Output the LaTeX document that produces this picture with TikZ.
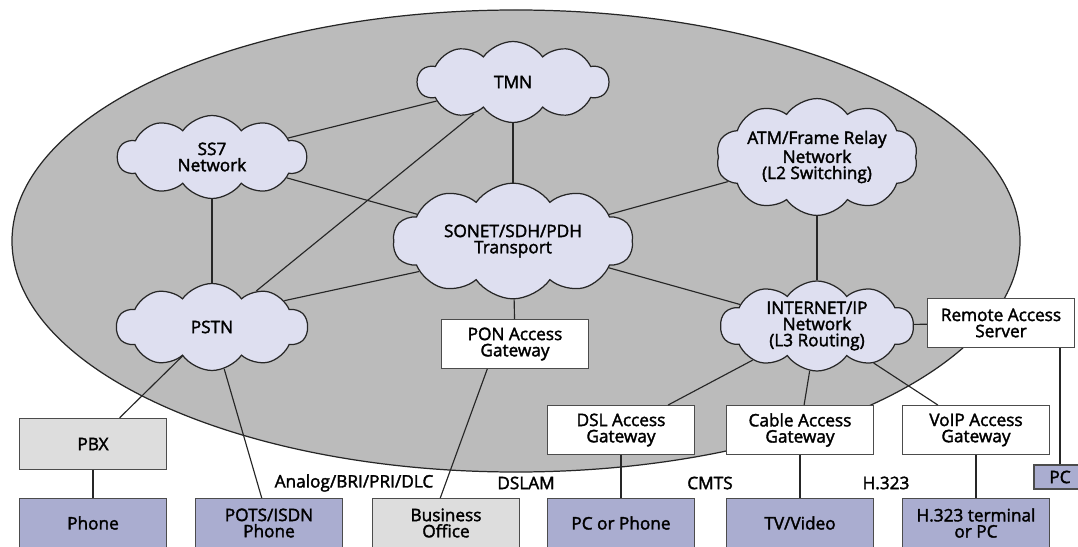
\documentclass[tikz,border=0pt]{standalone}
\usepackage{fontspec}
\setmainfont{Open Sans}[FakeBold=2]
\usepackage{tikz}
\usetikzlibrary{shapes.symbols}
\definecolor{ringgray}{RGB}{187,187,187}
\definecolor{cloudfill}{RGB}{222,223,240}
\definecolor{termfill}{RGB}{170,173,208}
\definecolor{officefill}{RGB}{221,221,221}
\tikzstyle{net}=[cloud, cloud puffs=10, cloud puff arc=110, aspect=2.2, draw=black!85, fill=cloudfill, inner sep=0pt, align=center, line width=0.7pt]
\tikzstyle{gw}=[rectangle, draw=black!70, fill=white, minimum width=2.94cm, minimum height=0.97cm, inner sep=1pt, align=center, line width=0.8pt]
\tikzstyle{term}=[gw, fill=termfill]
\tikzstyle{office}=[gw, fill=officefill]
\tikzstyle{lbl}=[inner sep=1pt]
\tikzstyle{edge}=[draw=black!85, line width=0.65pt]

\begin{document}
\begin{tikzpicture}[x=0.02cm, y=-0.02cm, font=\fontsize{9.8}{9.2}\selectfont]
	\useasboundingbox (0,0) rectangle (1078,547);
	\clip (0,0) rectangle (1078,547);
	\draw[fill=ringgray, draw=black!85, line width=0.7pt] (516,241) ellipse [x radius=504, y radius=231];
	% core networks
	\draw (513,82) node[net, minimum width=3.82cm, minimum height=1.62cm] (tmn) {TMN};
	\draw (212,157) node[net, minimum width=3.78cm, minimum height=1.66cm] (ss7) {SS7\\Network};
	\draw (513,241) node[net, minimum width=4.8cm, minimum height=2.06cm] (sonet) {SONET/SDH/PDH\\Transport};
	\draw (817,157) node[net, minimum width=3.86cm, minimum height=1.66cm] (atm) {ATM/Frame Relay\\Network\\(L2 Switching)};
	\draw (212,327) node[net, minimum width=3.82cm, minimum height=1.74cm] (pstn) {PSTN};
	\draw (817,326) node[net, minimum width=3.86cm, minimum height=1.7cm] (inet) {INTERNET/IP\\Network\\(L3 Routing)};
	% gateways
	\draw (515,344) node[gw] (pon) {PON Access\\Gateway};
	\draw (1001,323) node[gw] (ras) {Remote Access\\Server};
	\draw (621,430) node[gw] (dsl) {DSL Access\\Gateway};
	\draw (800,430) node[gw] (cable) {Cable Access\\Gateway};
	\draw (976,430) node[gw] (voip) {VoIP Access\\Gateway};
	\draw (93,444) node[office, minimum height=1.02cm] (pbx) {PBX};
	% end points
	\draw (93,523) node[term] (phone) {Phone};
	\draw (269,523) node[term] (pots) {POTS/ISDN\\Phone};
	\draw (446,523) node[office] (office) {Business\\Office};
	\draw (621,523) node[term] (pcphone) {PC or Phone};
	\draw (800,523) node[term] (tv) {TV/Video};
	\draw (976,523) node[term] (h323) {H.323 terminal\\or PC};
	\draw (1060,477) node[term, minimum width=1.04cm, minimum height=0.48cm] (pc) {PC};
	% access labels
	\draw (354,483) node[lbl] (analog) {Analog/BRI/PRI/DLC};
	\draw (526,483) node[lbl] (dslam) {DSLAM};
	\draw (710,483) node[lbl] (cmts) {CMTS};
	\draw (886,483) node[lbl] (h323l) {H.323};
	% links
	\draw[edge] (ss7) -- (tmn);
	\draw[edge] (ss7) -- (sonet);
	\draw[edge] (ss7) -- (pstn);
	\draw[edge] (tmn) -- (sonet);
	\draw[edge] (tmn) -- (pstn);
	\draw[edge] (pstn.20) -- (sonet.198);
	\draw[edge] (sonet) -- (atm);
	\draw[edge] (sonet) -- (inet);
	\draw[edge] (atm) -- (inet);
	\draw[edge] (sonet) -- (pon);
	\draw[edge] (inet) -- (ras);
	\draw[edge] (pc.north) -- (pc.north |- ras.south);
	\draw[edge] (inet) -- (dsl);
	\draw[edge] (inet) -- (cable);
	\draw[edge] (inet) -- (voip);
	\draw[edge] (pstn) -- (pbx);
	\draw[edge] (pstn) -- (pots);
	\draw[edge] (pon.222) -- (office.103);
	\draw[edge] (pbx) -- (phone);
	\draw[edge] (dsl) -- (pcphone);
	\draw[edge] (cable) -- (tv);
	\draw[edge] (voip) -- (h323);
\end{tikzpicture}
\end{document}
